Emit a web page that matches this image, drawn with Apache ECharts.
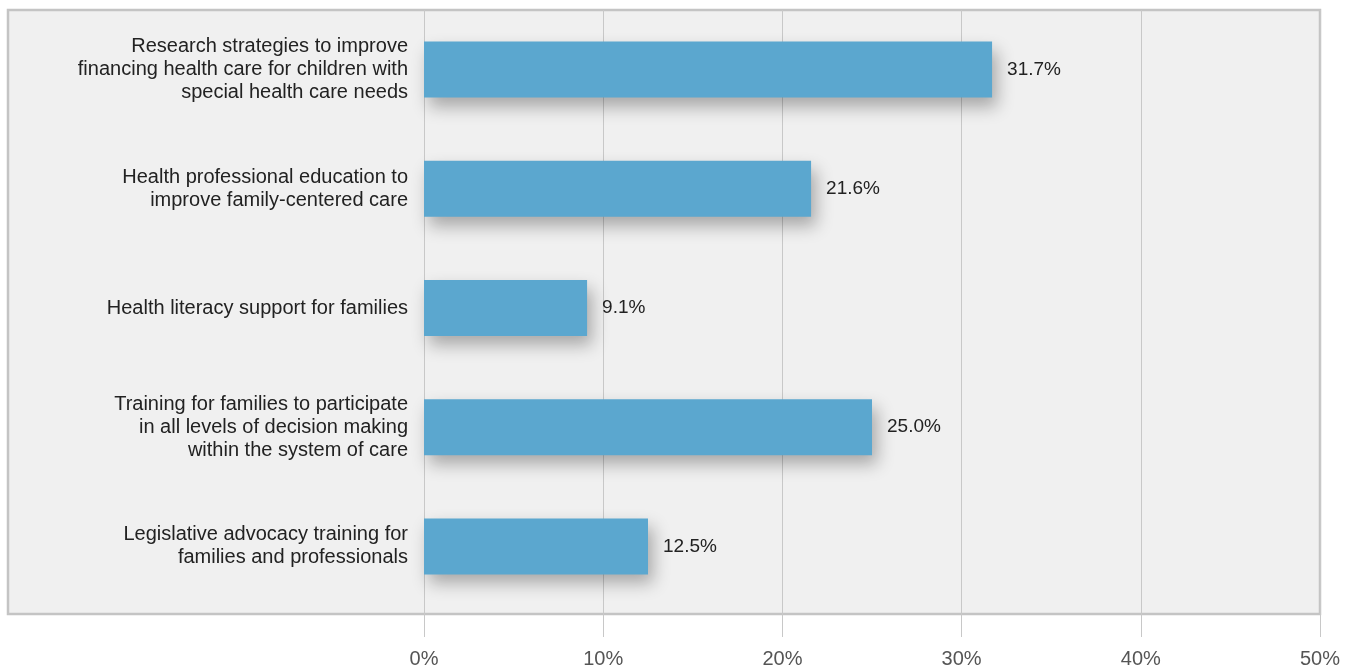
<!DOCTYPE html>
<html><head><meta charset="utf-8">
<script src="https://cdn.jsdelivr.net/npm/echarts@6/dist/echarts.min.js"></script>
<style>html,body{margin:0;padding:0;background:#fff}#c{width:1363px;height:671px}</style>
</head><body><div id="c"></div>
<script>
const categories = [
  "Research strategies to improve\nfinancing health care for children with\nspecial health care needs",
  "Health professional education to\nimprove family-centered care",
  "Health literacy support for families",
  "Training for families to participate\nin all levels of decision making\nwithin the system of care",
  "Legislative advocacy training for\nfamilies and professionals"
];
const values = [31.7, 21.6, 9.1, 25.0, 12.5];
const tickLabels = ["0%", "10%", "20%", "30%", "40%", "50%"];

const chart = echarts.init(document.getElementById('c'));
chart.setOption({
  animation: false,
  textStyle: { fontFamily: 'Liberation Sans, Arial, sans-serif' },
  graphic: [{
    type: 'rect', z: -10, silent: true,
    shape: { x: 8, y: 10, width: 1312, height: 604 },
    style: { fill: '#f0f0f0', stroke: '#c4c4c4', lineWidth: 2.5 }
  }],
  grid: { left: 424, right: 43, top: 10, bottom: 65, containLabel: false },
  xAxis: {
    type: 'value', min: 0, max: 50, interval: 10,
    axisLine: { show: false },
    axisTick: { show: true, length: 31, lineStyle: { color: '#c8c8c8', width: 1 } },
    splitLine: { show: true, lineStyle: { color: '#c8c8c8', width: 1 } },
    axisLabel: { margin: 43, fontSize: 20, color: '#555',
      formatter: (v) => tickLabels[Math.round(v / 10)] }
  },
  yAxis: {
    type: 'category', data: categories, inverse: true,
    axisLine: { show: false }, axisTick: { show: false },
    axisLabel: { margin: 16, fontSize: 20, color: '#222', lineHeight: 23, align: 'right' }
  },
  series: [{
    type: 'bar', data: values, barWidth: 56,
    itemStyle: { color: '#5ba7cf', shadowColor: 'rgba(0,0,0,0.3)', shadowBlur: 16, shadowOffsetX: 5, shadowOffsetY: 9 },
    label: { show: true, position: 'right', distance: 15, fontSize: 19, color: '#222',
      formatter: (p) => p.value.toFixed(1) + '%' }
  }]
});
</script></body></html>
